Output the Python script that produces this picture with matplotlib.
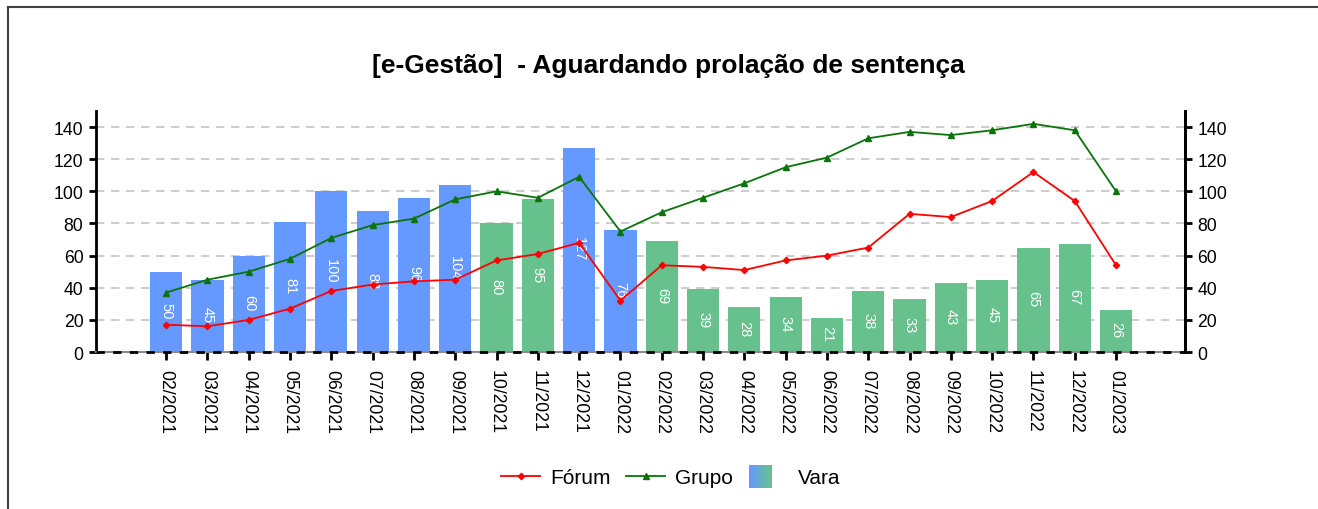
import numpy as np
import matplotlib
matplotlib.use("Agg")
import matplotlib.pyplot as plt
from matplotlib.lines import Line2D
from matplotlib.patches import Rectangle
from matplotlib.legend_handler import HandlerBase
from matplotlib.colors import to_rgb

plt.rcParams["font.family"] = ["Liberation Sans", "DejaVu Sans"]

# data
meses = ["02/2021", "03/2021", "04/2021", "05/2021", "06/2021", "07/2021",
         "08/2021", "09/2021", "10/2021", "11/2021", "12/2021", "01/2022",
         "02/2022", "03/2022", "04/2022", "05/2022", "06/2022", "07/2022",
         "08/2022", "09/2022", "10/2022", "11/2022", "12/2022", "01/2023"]
vara = [50, 45, 60, 81, 100, 88, 96, 104, 80, 95, 127, 76,
        69, 39, 28, 34, 21, 38, 33, 43, 45, 65, 67, 26]
forum = [17, 16, 20, 27, 38, 42, 44, 45, 57, 61, 68, 32,
         54, 53, 51, 57, 60, 65, 86, 84, 94, 112, 94, 54]
grupo = [37, 45, 50, 58, 71, 79, 83, 95, 100, 96, 109, 75,
         87, 96, 105, 115, 121, 133, 137, 135, 138, 142, 138, 100]
# 1 = bar drawn blue, 0 = bar drawn green
acima = [1, 1, 1, 1, 1, 1, 1, 1, 0, 0, 1, 1,
         0, 0, 0, 0, 0, 0, 0, 0, 0, 0, 0, 0]

AZUL = "#6699FF"
VERDE = "#66C18C"
VERMELHO = "#FF0000"
VERDE_ESC = "#0A730A"


class GradientHandler(HandlerBase):
    # square swatch fading from blue to green, like the original legend
    def create_artists(self, legend, orig_handle, xdescent, ydescent,
                       width, height, fontsize, trans):
        side = 16.5
        x0 = -xdescent
        y0 = -ydescent + (height - side) / 2
        c1, c2 = np.array(to_rgb(AZUL)), np.array(to_rgb(VERDE))
        n = 24
        arts = []
        for i in range(n):
            c = c1 + (c2 - c1) * i / (n - 1)
            r = Rectangle((x0 + i * side / n, y0), side / n + 0.3, side,
                          facecolor=c, edgecolor="none", transform=trans)
            arts.append(r)
        return arts


fig = plt.figure(figsize=(13.18, 5.10), dpi=100)
ax = fig.add_axes([0.0728, 0.3078, 0.8263, 0.4726])

x = np.arange(len(meses))
cores = [AZUL if a else VERDE for a in acima]
ax.bar(x, vara, width=0.78, color=cores, zorder=2)

for xi, v in zip(x, vara):
    ax.text(xi, v / 2 + 1, str(v), rotation=-90, color="white",
            ha="center", va="center", fontsize=10.5, zorder=3)

l1, = ax.plot(x, forum, color=VERMELHO, lw=1.3, marker="D", ms=3.2,
              zorder=5, label="Fórum")
l2, = ax.plot(x, grupo, color=VERDE_ESC, lw=1.3, marker="^", ms=4.2,
              zorder=5, label="Grupo")

ax.set_xlim(-1.7, 24.67)
ax.set_ylim(0, 150)
ax.set_yticks(range(0, 141, 20))
ax.set_xticks(x)
ax.set_xticklabels(meses, rotation=-90, fontsize=12.7, va="top")
ax.tick_params(axis="x", length=6, width=2, pad=6)
ax.tick_params(axis="y", length=5, width=2, labelsize=12.7, pad=4)
ax.grid(axis="y", color="#C4C4C4", ls=(0, (5, 4)), lw=1.2)
ax.set_axisbelow(True)

ax.spines["top"].set_visible(False)
ax.spines["left"].set_linewidth(2)
ax.spines["right"].set_linewidth(2)
ax.spines["bottom"].set_color("#8C8C8C")
ax.spines["bottom"].set_linewidth(1.5)
ax.axhline(0, color="black", lw=2, ls=(0, (3, 3)), zorder=4, clip_on=False)

ax2 = ax.twinx()
ax2.set_ylim(ax.get_ylim())
ax2.set_yticks(range(0, 141, 20))
ax2.tick_params(axis="y", length=5, width=2, labelsize=12.7, pad=4)
for s in ["top", "left", "bottom"]:
    ax2.spines[s].set_visible(False)
ax2.spines["right"].set_linewidth(2)

fig.suptitle("[e-Gestão]  - Aguardando prolação de sentença",
             fontsize=19, fontweight="bold", x=0.507, y=0.870, va="center")

vara_handle = Rectangle((0, 0), 1, 1, color=AZUL)
fig.legend([l1, l2, vara_handle], ["Fórum", "Grupo", "Vara"],
           loc="center", bbox_to_anchor=(0.509, 0.061), ncol=3,
           frameon=False, fontsize=15, handlelength=1.85, columnspacing=0.75,
           handletextpad=0.5, handler_map={Rectangle: GradientHandler()})

# partial outer frame (top and left edges)
fig.add_artist(Line2D([8 / 1318, 1.0], [1 - 8 / 510, 1 - 8 / 510],
                      transform=fig.transFigure, color="#404040", lw=1.5))
fig.add_artist(Line2D([8 / 1318, 8 / 1318], [0.0, 1 - 8 / 510],
                      transform=fig.transFigure, color="#404040", lw=1.5))

fig.savefig("out.png", dpi=100)
